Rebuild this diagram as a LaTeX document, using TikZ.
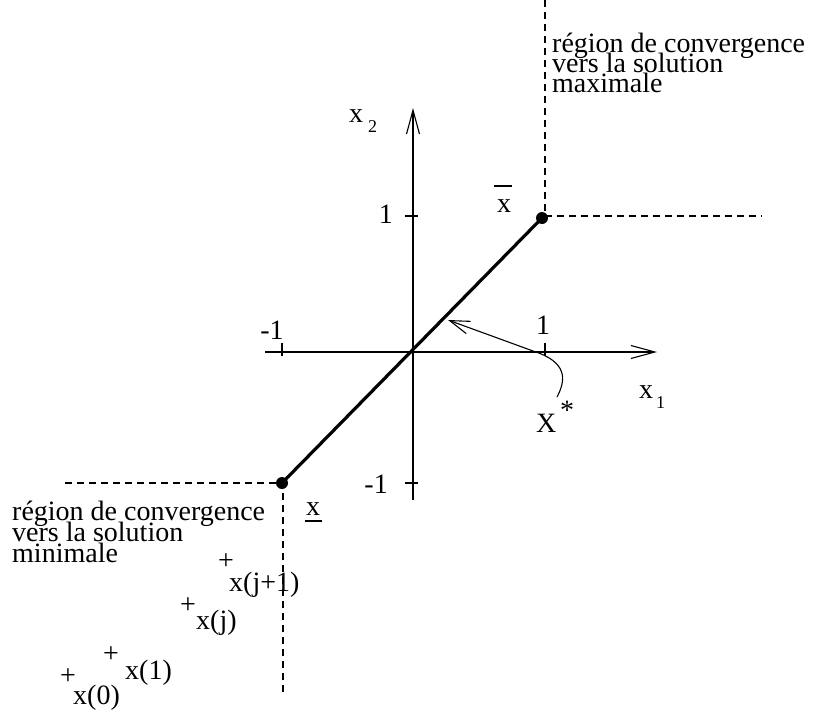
\documentclass[tikz,border=0pt]{standalone}
\usepackage{fontspec}
\setmainfont{Liberation Serif}
\usetikzlibrary{arrows.meta}
\begin{document}
\begin{tikzpicture}[x=1pt,y=-1pt,
  lbl/.style={inner sep=0pt,font=\fontsize{28}{21}\selectfont},
  sub/.style={inner sep=0pt,font=\fontsize{18}{18}\selectfont},
  axis/.style={line width=1.1pt,-{Straight Barb[length=24pt,width=13pt,line width=1.1pt]}},
  tick/.style={line width=1.1pt},
  dsh/.style={line width=1.2pt,dash pattern=on 7pt off 5pt},
  seg/.style={line width=3.2pt},
  dotn/.style={circle,fill=black,inner sep=0pt,minimum size=12pt}]
\useasboundingbox (0,0) rectangle (820,715);
% axes
\coordinate (xl) at (265,352);
\coordinate (xr) at (657,352);
\coordinate (yb) at (413,500);
\coordinate (yt) at (413,108);
\draw[axis] (xl) -- (xr);
\draw[axis] (yb) -- (yt);
% ticks
\coordinate (tx1a) at (545,343); \coordinate (tx1b) at (545,356);
\coordinate (txma) at (282,343); \coordinate (txmb) at (282,356);
\coordinate (ty1a) at (405,216); \coordinate (ty1b) at (418,216);
\coordinate (tyma) at (405,483); \coordinate (tymb) at (418,483);
\draw[tick] (tx1a) -- (tx1b);
\draw[tick] (txma) -- (txmb);
\draw[tick] (ty1a) -- (ty1b);
\draw[tick] (tyma) -- (tymb);
% tick labels
\node[lbl,anchor=base east] (l1y) at (393,223) {1};
\node[lbl,anchor=base east] (lm1y) at (388,493) {-1};
\node[lbl,anchor=base] (l1x) at (543,334) {1};
\node[lbl,anchor=base] (lm1x) at (272,339) {-1};
% axis labels
\node[lbl,anchor=base west] (x1l) at (639,398) {x};
\node[sub,anchor=base west] (x1s) at (656,408) {1};
\node[lbl,anchor=base west] (x2l) at (349,122) {x};
\node[sub,anchor=base west] (x2s) at (368,132) {2};
% dashed regions
\coordinate (ctop) at (545,216);
\coordinate (ctopu) at (545,0);
\coordinate (ctopr) at (762,216);
\draw[dsh] (ctopu) -- (ctop) -- (ctopr);
\coordinate (cbot) at (283,483);
\coordinate (cbotl) at (65,483);
\coordinate (cbotd) at (283,692);
\draw[dsh] (cbotl) -- (cbot) -- (cbotd);
% segment
\node[dotn] (pmax) at (542,218) {};
\node[dotn] (pmin) at (282,483) {};
\draw[seg] (pmin.center) -- (pmax.center);
% xbar labels
\node[lbl,anchor=base west] (xbar) at (497,212) {x};
\coordinate (ob1) at (494,186); \coordinate (ob2) at (512,186);
\draw[line width=1.1pt] (ob1) -- (ob2);
\node[lbl,anchor=base west] (xund) at (306,515) {x};
\coordinate (ub1) at (305,521); \coordinate (ub2) at (322,521);
\draw[line width=1.1pt] (ub1) -- (ub2);
% X* arrow
\node[lbl,anchor=base west] (Xs) at (536,432) {X};
\node[lbl,anchor=center] (star) at (567,410) {*};
\coordinate (cs) at (557,397);
\coordinate (ce) at (448,320);
\draw[line width=1.1pt,-{Straight Barb[length=20pt,width=13pt,line width=1.1pt]}]
  (cs) .. controls (566,380) and (568,362) .. (533,351) -- (ce);
% region labels top
\node[lbl,anchor=base west] (rt1) at (552,52) {région de convergence};
\node[lbl,anchor=base west] (rt2) at (552,72) {vers la solution};
\node[lbl,anchor=base west] (rt3) at (552,92) {maximale};
% region labels bottom
\node[lbl,anchor=base west] (rb1) at (12,520) {région de convergence};
\node[lbl,anchor=base west] (rb2) at (12,541) {vers la solution};
\node[lbl,anchor=base west] (rb3) at (12,562) {minimale};
% iterates
\node[lbl,anchor=center] (p0) at (68,677) {+};
\node[lbl,anchor=base west] (t0) at (73,704) {x(0)};
\node[lbl,anchor=center] (p1) at (111,655) {+};
\node[lbl,anchor=base west] (t1) at (125,679) {x(1)};
\node[lbl,anchor=center] (pj) at (188,606) {+};
\node[lbl,anchor=base west] (tj) at (196,629) {x(j)};
\node[lbl,anchor=center] (pj1) at (226,562) {+};
\node[lbl,anchor=base west] (tj1) at (229,591) {x(j+1)};
\end{tikzpicture}
\end{document}
